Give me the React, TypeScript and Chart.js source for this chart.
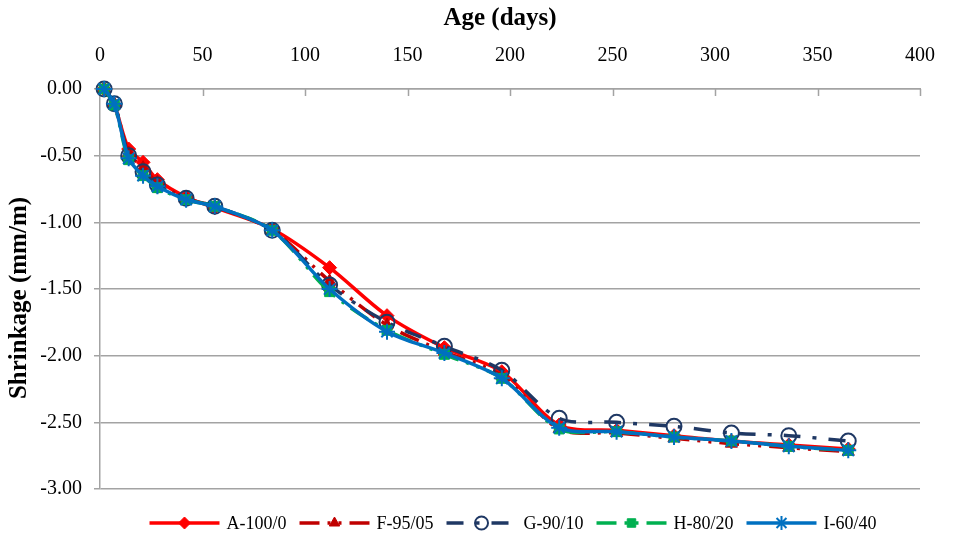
import React, { useEffect, useRef } from "react";
import { Chart, registerables } from "chart.js";
import { drawPoint } from "chart.js/helpers";

Chart.register(...registerables);

// Measurement ages (days)
const days = [2, 7, 14, 21, 28, 42, 56, 84, 112, 140, 168, 196, 224, 252, 280, 308, 336, 365];

// Drying shrinkage (mm/m) per mix
const shrinkA = [0, -0.12, -0.45, -0.55, -0.68, -0.81, -0.89, -1.05, -1.34, -1.70, -1.94, -2.12, -2.52, -2.56, -2.60, -2.64, -2.67, -2.70];
const shrinkF = [0, -0.11, -0.48, -0.59, -0.70, -0.82, -0.88, -1.06, -1.44, -1.77, -1.97, -2.15, -2.55, -2.58, -2.62, -2.66, -2.69, -2.72];
const shrinkG = [0, -0.11, -0.50, -0.62, -0.72, -0.82, -0.88, -1.06, -1.47, -1.75, -1.93, -2.11, -2.47, -2.50, -2.53, -2.58, -2.60, -2.64];
const shrinkH = [0, -0.12, -0.53, -0.65, -0.74, -0.83, -0.88, -1.06, -1.52, -1.81, -1.99, -2.17, -2.55, -2.57, -2.61, -2.64, -2.68, -2.71];
const shrinkI = [0, -0.11, -0.52, -0.65, -0.73, -0.83, -0.88, -1.06, -1.50, -1.82, -1.98, -2.17, -2.54, -2.57, -2.61, -2.64, -2.68, -2.71];

const seriesLabels = ["A-100/0", "F-95/05", "G-90/10", "H-80/20", "I-60/40"];
const xTitle = "Age (days)";
const yTitle = "Shrinkage (mm/m)";

const SERIF = '"Liberation Serif", "Times New Roman", serif';
const GRID = "#a3a3a3";

const toPoints = (vals: number[]) => vals.map((v, i) => ({ x: days[i], y: v }));

// Legend drawn as line sample + marker + label, in series order
const lineLegend = {
  id: "lineLegend",
  afterDraw(chart: any) {
    const ctx: CanvasRenderingContext2D = chart.ctx;
    const sets = chart.data.datasets;
    const lineLen = 70;
    const gapText = 7;
    const gapItem = 13;
    ctx.save();
    ctx.font = `18px ${SERIF}`;
    const widths = sets.map((d: any) => ctx.measureText(d.label).width);
    const total =
      widths.reduce((s: number, w: number) => s + lineLen + gapText + w, 0) + gapItem * (sets.length - 1);
    const ca = chart.chartArea;
    let x = (ca.left + ca.right) / 2 + 3 - total / 2;
    const y = 523;
    sets.forEach((d: any, i: number) => {
      ctx.strokeStyle = d.borderColor;
      ctx.lineWidth = d.borderWidth;
      ctx.lineCap = "butt";
      ctx.setLineDash(d.borderDash || []);
      ctx.beginPath();
      ctx.moveTo(x, y);
      ctx.lineTo(x + lineLen, y);
      ctx.stroke();
      ctx.setLineDash([]);
      ctx.fillStyle = d.pointBackgroundColor;
      ctx.strokeStyle = d.pointBorderColor;
      ctx.lineWidth = d.pointBorderWidth;
      drawPoint(
        ctx,
        { pointStyle: d.pointStyle, radius: d.pointRadius - 1, borderWidth: d.pointBorderWidth, rotation: 0 } as any,
        x + lineLen / 2,
        y
      );
      ctx.fillStyle = "#000";
      ctx.textAlign = "left";
      ctx.textBaseline = "middle";
      ctx.fillText(d.label, x + lineLen + gapText, y + 1);
      x += lineLen + gapText + widths[i] + gapItem;
    });
    ctx.restore();
  },
};

// Axis titles and short tick marks pointing down from the top axis
const axisDecor = {
  id: "axisDecor",
  afterDatasetsDraw(chart: any) {
    const ctx: CanvasRenderingContext2D = chart.ctx;
    const xs = chart.scales.x;
    const ca = chart.chartArea;
    ctx.save();
    ctx.strokeStyle = GRID;
    ctx.lineWidth = 1.5;
    for (let v = 50; v <= 400; v += 50) {
      const px = Math.round(xs.getPixelForValue(v)) + 0.5;
      ctx.beginPath();
      ctx.moveTo(px, ca.top);
      ctx.lineTo(px, ca.top + 7);
      ctx.stroke();
    }
    ctx.fillStyle = "#000";
    ctx.font = `bold 25px ${SERIF}`;
    ctx.textAlign = "center";
    ctx.textBaseline = "middle";
    ctx.fillText(xTitle, 500, 19);
    ctx.translate(20, 298);
    ctx.rotate(-Math.PI / 2);
    ctx.fillText(yTitle, 0, 0);
    ctx.restore();
  },
};

export default function App() {
  const ref = useRef<HTMLCanvasElement | null>(null);

  useEffect(() => {
    if (!ref.current) return;
    const common = { borderWidth: 3.5, tension: 0.3, clip: false as any, pointHoverRadius: 7 };
    const chart = new Chart(ref.current, {
      type: "line",
      data: {
        datasets: [
          {
            ...common,
            label: seriesLabels[0],
            data: toPoints(shrinkA),
            borderColor: "#ff0000",
            pointStyle: "rectRot",
            pointRadius: 7,
            pointBackgroundColor: "#ff0000",
            pointBorderColor: "#ff0000",
            pointBorderWidth: 1,
            order: 5,
          },
          {
            ...common,
            label: seriesLabels[1],
            data: toPoints(shrinkF),
            borderColor: "#c00000",
            borderDash: [20, 8, 3, 8, 3, 8],
            pointStyle: "triangle",
            pointRadius: 7,
            pointBackgroundColor: "#c00000",
            pointBorderColor: "#c00000",
            pointBorderWidth: 1,
            order: 4,
          },
          {
            ...common,
            label: seriesLabels[2],
            data: toPoints(shrinkG),
            borderColor: "#1f3864",
            borderDash: [17, 12, 4, 12],
            pointStyle: "circle",
            pointRadius: 7.5,
            pointBackgroundColor: "rgba(255,255,255,0)",
            pointBorderColor: "#1f3864",
            pointBorderWidth: 2,
            order: 3,
          },
          {
            ...common,
            label: seriesLabels[3],
            data: toPoints(shrinkH),
            borderColor: "#00b050",
            borderDash: [20, 8, 3, 8, 3, 8],
            pointStyle: "rect",
            pointRadius: 7,
            pointBackgroundColor: "#00b050",
            pointBorderColor: "#00b050",
            pointBorderWidth: 1,
            order: 2,
          },
          {
            ...common,
            label: seriesLabels[4],
            data: toPoints(shrinkI),
            borderColor: "#0070c0",
            pointStyle: "star",
            pointRadius: 8,
            pointBackgroundColor: "#0070c0",
            pointBorderColor: "#0070c0",
            pointBorderWidth: 2,
            order: 1,
          },
        ],
      },
      options: {
        responsive: false,
        animation: false,
        layout: { padding: { left: 0, top: 0, right: 34, bottom: 51 } },
        plugins: {
          legend: { display: false },
          tooltip: { enabled: false },
        },
        scales: {
          x: {
            type: "linear",
            position: "top",
            min: 0,
            max: 400,
            ticks: { stepSize: 50, padding: 21, color: "#000", font: { family: SERIF, size: 20 } },
            grid: { display: false, drawTicks: false },
            border: { display: true, color: GRID, width: 1.5 },
            afterFit: (s: any) => {
              s.height = 89;
            },
          },
          y: {
            type: "linear",
            min: -3,
            max: 0,
            ticks: {
              stepSize: 0.5,
              padding: 12,
              color: "#000",
              font: { family: SERIF, size: 20 },
              callback: (v: any) => Number(v).toFixed(2),
            },
            grid: { color: GRID, lineWidth: 1.5, tickLength: 6, drawTicks: true },
            border: { display: true, color: GRID, width: 1.5 },
            afterFit: (s: any) => {
              s.width = 100;
            },
          },
        },
      },
      plugins: [axisDecor, lineLegend],
    });
    return () => chart.destroy();
  }, []);

  return (
    <div style={{ position: "absolute", left: 0, top: 0, width: 956, height: 540, background: "#fff" }}>
      <canvas ref={ref} width={956} height={540} />
    </div>
  );
}
